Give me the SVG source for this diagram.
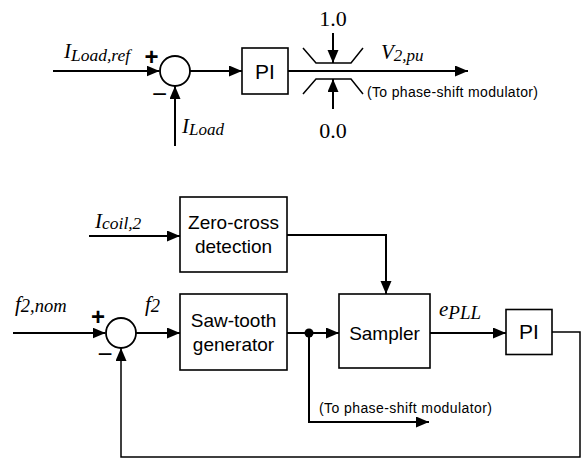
<svg xmlns="http://www.w3.org/2000/svg" width="582" height="459" viewBox="0 0 582 459">
<defs>
<marker id="arr" markerUnits="userSpaceOnUse" markerWidth="14" markerHeight="12" refX="13" refY="5.5" orient="auto">
<path d="M0,0 L13,5.5 L0,11 z" fill="#000"/>
</marker>
<style>
.w{fill:none;stroke:#000;stroke-width:2}
.a{marker-end:url(#arr)}
.thin{fill:none;stroke:#000;stroke-width:1.5}
.box{fill:#fff;stroke:#000;stroke-width:1.6}
.sum{fill:#fff;stroke:#000;stroke-width:1.8}
.s{font-family:"Liberation Sans",Arial,sans-serif;fill:#000}
.m{font-family:"Liberation Serif","Times New Roman",serif;font-style:italic;fill:#000}
.n{font-family:"Liberation Serif","Times New Roman",serif;fill:#000}
.sm{font-family:"Liberation Sans",Arial,sans-serif;font-size:14px;fill:#000}
.sg{font-family:"Liberation Sans",Arial,sans-serif;fill:#000;text-anchor:middle}
</style>
</defs>
<rect width="582" height="459" fill="#fff"/>
<g id="connectors">
<path class="w a" d="M53,71 H159.5"/>
<path class="w a" d="M175,146 V86"/>
<path class="w a" d="M190,71 H242"/>
<path class="w a" d="M288,71 H468"/>
<polyline class="thin" points="303,48 316,63 351,63 363,48"/>
<polyline class="thin" points="303,94 316,79 351,79 363,94"/>
<path class="w a" d="M333,33 V63"/>
<path class="w a" d="M333,109 V79"/>
<path class="w a" d="M89,236 H180"/>
<path class="w a" d="M287,235 H386 V294"/>
<path class="w a" d="M13,333 H105.5"/>
<path class="w a" d="M136,333 H180"/>
<path class="w a" d="M287,333 H339"/>
<path class="w a" d="M430,333 H506"/>
<path class="thin a" d="M552,332 H580 V457 H121 V348"/>
<path class="w a" d="M309,333 V422 H429"/>
<circle cx="309" cy="333" r="4.5" fill="#000"/>
</g>
<g id="sum1">
<circle class="sum" cx="175" cy="71" r="15"/>
<text class="sg" x="151.5" y="64.5" font-size="24" font-weight="bold">+</text>
<text class="sg" x="159.5" y="103" font-size="26">−</text>
</g>
<g id="pi1">
<rect class="box" x="242" y="48" width="46" height="46"/>
<text class="s" x="265" y="79" font-size="21" text-anchor="middle">PI</text>
</g>
<g id="limiter">
<text class="n" x="333" y="26" font-size="22" text-anchor="middle">1.0</text>
<text class="n" x="333" y="138" font-size="22" text-anchor="middle">0.0</text>
</g>
<g id="labels-top">
<text class="m" x="64" y="58" font-size="21">I<tspan font-size="17.5" dy="3">Load,ref</tspan></text>
<text class="m" x="182" y="133" font-size="21">I<tspan font-size="17" dy="2">Load</tspan></text>
<text class="m" x="381" y="59" font-size="21">V<tspan font-size="17" dy="2">2,pu</tspan></text>
<text class="sm" x="367" y="97" textLength="171" lengthAdjust="spacing">(To phase-shift modulator)</text>
</g>
<g id="zerocross">
<rect class="box" x="180" y="197" width="107" height="75"/>
<text class="s" x="233.5" y="229" font-size="19" text-anchor="middle">Zero-cross</text>
<text class="s" x="233.5" y="253" font-size="19" text-anchor="middle">detection</text>
</g>
<g id="sum2">
<circle class="sum" cx="121" cy="333" r="15"/>
<text class="sg" x="98" y="324.5" font-size="24" font-weight="bold">+</text>
<text class="sg" x="105" y="362.5" font-size="26">−</text>
</g>
<g id="sawtooth">
<rect class="box" x="180" y="294" width="107" height="76"/>
<text class="s" x="233.5" y="327" font-size="19" text-anchor="middle">Saw-tooth</text>
<text class="s" x="233.5" y="351" font-size="19" text-anchor="middle">generator</text>
</g>
<g id="sampler">
<rect class="box" x="339" y="294" width="91" height="74"/>
<text class="s" x="384.5" y="340" font-size="19" text-anchor="middle">Sampler</text>
</g>
<g id="pi2">
<rect class="box" x="506" y="309.5" width="46" height="45"/>
<text class="s" x="529" y="339" font-size="21" text-anchor="middle">PI</text>
</g>
<g id="labels-bottom">
<text class="m" x="95" y="228" font-size="21">I<tspan font-size="17.5" dy="1">coil,2</tspan></text>
<text class="m" x="15" y="311" font-size="21">f<tspan font-size="18.5" dy="1">2,nom</tspan></text>
<text class="m" x="145" y="311" font-size="21">f<tspan font-size="18.5" dy="1">2</tspan></text>
<text class="m" x="439" y="316" font-size="21">e<tspan font-size="19" dy="3">PLL</tspan></text>
<text class="sm" x="319" y="413" textLength="173" lengthAdjust="spacing">(To phase-shift modulator)</text>
</g>
</svg>
